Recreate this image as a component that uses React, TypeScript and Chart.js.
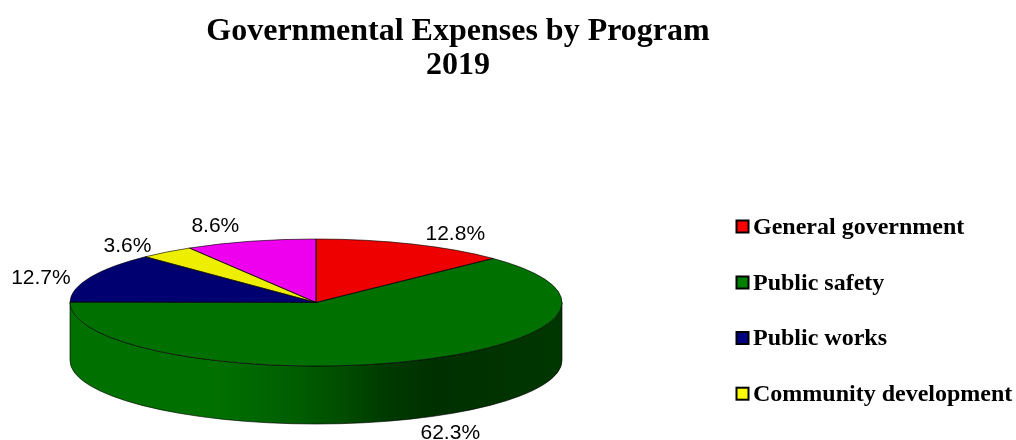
import React, { useEffect, useRef } from "react";
import { Chart, registerables } from "chart.js";

Chart.register(...registerables);

const titleLines = ["Governmental Expenses by Program", "2019"];
const categories = ["General government", "Public safety", "Public works", "Community development", "Other"];
const shares = [12.8, 62.3, 12.7, 3.6, 8.6];
const sliceColors = ["#ee0000", "#007000", "#000070", "#eeee00", "#ee00ee"];
const legendColors = ["#ff0000", "#008000", "#000080", "#ffff00"];

// Layout of the tilted pie.
const CX = 316;
const CY = 302.5;
const RX = 246;
const RY = 63.5;
const DEPTH = 58;
// Label nudges from the rim point at each slice's middle angle.
const labelNudges: [number, number][] = [
  [43, -9.5],
  [43, 13.5],
  [-49, 0.5],
  [-39, -5.5],
  [-35, -15.5],
];
const wallShade: [number, number][] = [
  [0, 1],
  [0.3, 1],
  [0.47, 0.82],
  [0.56, 0.68],
  [0.64, 0.52],
  [0.74, 0.43],
  [1, 0.48],
];
const LEGEND_X = 735.5;
const LEGEND_Y = [226.5, 282.5, 338, 393.7];
const OUTLINE = "rgba(0,0,0,0.62)";

function shade(hex: string, f: number) {
  const n = parseInt(hex.slice(1), 16);
  const c = (s: number) => Math.round(((n >> s) & 255) * f);
  return `rgb(${c(16)},${c(8)},${c(0)})`;
}

const tiltPlugin = {
  id: "tilt",
  afterLayout(chart: any) {
    // Pie centre is independent of the title's box.
    Object.assign(chart.chartArea, {
      left: CX - 316,
      right: CX + 316,
      top: CY - 137.5,
      bottom: CY + 137.5,
      width: 632,
      height: 275,
    });
  },
  beforeDatasetDraw(chart: any, args: any) {
    const ctx = chart.ctx;
    const k = RY / RX;
    ctx.save();
    // Side wall of every slice that faces the viewer.
    args.meta.data.forEach((arc: any, i: number) => {
      const a0 = Math.max(arc.startAngle, 0);
      const a1 = Math.min(arc.endAngle, Math.PI);
      if (a1 <= a0) return;
      const g = ctx.createLinearGradient(arc.x - RX, 0, arc.x + RX, 0);
      wallShade.forEach(([p, f]) => g.addColorStop(p, shade(sliceColors[i], f)));
      ctx.beginPath();
      ctx.ellipse(arc.x, arc.y, RX, RX * k, 0, a0, a1, false);
      ctx.ellipse(arc.x, arc.y + DEPTH, RX, RX * k, 0, a1, a0, true);
      ctx.closePath();
      ctx.fillStyle = g;
      ctx.fill();
      ctx.strokeStyle = OUTLINE;
      ctx.lineWidth = 1;
      ctx.stroke();
    });
    ctx.restore();
    ctx.save();
    const first = args.meta.data[0];
    ctx.translate(first.x, first.y);
    ctx.scale(1, k);
    ctx.translate(-first.x, -first.y);
  },
  afterDatasetDraw(chart: any, args: any) {
    const ctx = chart.ctx;
    ctx.restore();
    const k = RY / RX;
    // Outlines, at a constant line width.
    ctx.save();
    ctx.strokeStyle = OUTLINE;
    ctx.lineWidth = 1;
    args.meta.data.forEach((arc: any) => {
      ctx.beginPath();
      ctx.moveTo(arc.x, arc.y);
      ctx.ellipse(arc.x, arc.y, arc.outerRadius, arc.outerRadius * k, 0, arc.startAngle, arc.endAngle, false);
      ctx.closePath();
      ctx.stroke();
    });
    // Percent labels.
    ctx.fillStyle = "#000000";
    ctx.font = '21px "Liberation Sans"';
    ctx.textAlign = "center";
    ctx.textBaseline = "middle";
    args.meta.data.forEach((arc: any, i: number) => {
      const mid = (arc.startAngle + arc.endAngle) / 2;
      const front = Math.sin(mid) > 0 ? DEPTH : 0;
      const px = arc.x + arc.outerRadius * Math.cos(mid);
      const py = arc.y + arc.outerRadius * k * Math.sin(mid) + front;
      ctx.fillText(`${shares[i].toFixed(1)}%`, px + labelNudges[i][0], py + labelNudges[i][1]);
    });
    ctx.restore();
  },
  afterDraw(chart: any) {
    // Legend: only the four entries that fit in the reference.
    const ctx = chart.ctx;
    ctx.save();
    ctx.textAlign = "left";
    ctx.textBaseline = "middle";
    ctx.font = 'bold 24px "Liberation Serif"';
    legendColors.forEach((color, i) => {
      const y = LEGEND_Y[i];
      ctx.fillStyle = color;
      ctx.strokeStyle = "#000000";
      ctx.lineWidth = 2;
      ctx.fillRect(LEGEND_X + 1, y - 6, 12, 12);
      ctx.strokeRect(LEGEND_X + 1, y - 6, 12, 12);
      ctx.fillStyle = "#000000";
      ctx.fillText(categories[i], 753, y + 1);
    });
    ctx.restore();
  },
};

export default function App() {
  const ref = useRef<HTMLCanvasElement>(null);
  useEffect(() => {
    const chart = new Chart(ref.current!, {
      type: "pie",
      data: {
        labels: categories,
        datasets: [
          {
            data: shares,
            backgroundColor: sliceColors,
            borderWidth: 0,
            radius: RX,
            clip: false,
          } as any,
        ],
      },
      options: {
        responsive: false,
        animation: false,
        events: [],
        layout: { padding: { left: 0, right: 100, top: 0, bottom: 0 } },
        plugins: {
          legend: { display: false },
          tooltip: { enabled: false },
          title: {
            display: true,
            text: titleLines,
            color: "#000000",
            font: { family: '"Liberation Serif"', size: 32, weight: "bold", lineHeight: 1.0625 },
            padding: { top: 15, bottom: 0 },
          },
        },
      },
      plugins: [tiltPlugin],
    });
    return () => chart.destroy();
  }, []);
  return (
    <canvas
      ref={ref}
      width={1016}
      height={440}
      style={{ position: "fixed", left: 0, top: 0, width: 1016, height: 440, display: "block", background: "#ffffff" }}
    />
  );
}
